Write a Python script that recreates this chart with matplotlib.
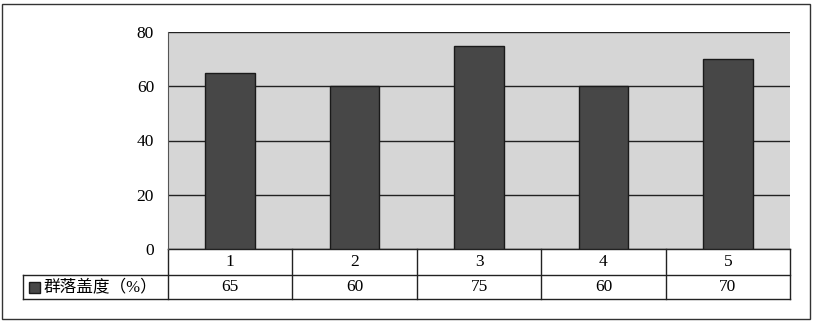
import matplotlib.pyplot as plt
from matplotlib.patches import Rectangle

# data
categories = ["1", "2", "3", "4", "5"]
coverage = [65, 60, 75, 60, 70]
series_name = "群落盖度（%）"
yticks = [0, 20, 40, 60, 80]

plt.rcParams["font.family"] = ["Liberation Serif", "Noto Sans CJK SC"]

fig = plt.figure(figsize=(8.14, 3.23), dpi=100)
ax = fig.add_axes([168 / 814, 1 - 249 / 323, 622 / 814, 217 / 323])
ax.set_facecolor("#d6d6d6")

x = range(len(categories))
ax.bar(x, coverage, width=0.4, color="#474747", edgecolor="#1a1a1a", linewidth=1, zorder=3)

ax.set_xlim(-0.5, len(categories) - 0.5)
ax.set_ylim(0, 80)
ax.set_yticks(yticks)
ax.set_yticklabels([str(t) for t in yticks], fontsize=12.5)
ax.set_xticks([])
ax.tick_params(axis="y", length=0, pad=10)
ax.yaxis.grid(True, color="#222222", linewidth=1, zorder=1)
for s in ["top", "right", "bottom"]:
    ax.spines[s].set_visible(False)
ax.spines["left"].set_color("#555555")

# data table under the axes (axes fraction coords)
n = len(categories)
label_l = -145 / 622
r1 = -26 / 217
r2 = -50 / 217
tr = ax.transAxes
line_kw = dict(transform=tr, clip_on=False, color="#222222", linewidth=1)
ax.plot([0, 1], [0, 0], **line_kw)
ax.plot([label_l, 1], [r1, r1], **line_kw)
ax.plot([label_l, 1], [r2, r2], **line_kw)
ax.plot([label_l, label_l], [r1, r2], **line_kw)
for k in range(n + 1):
    ax.plot([k / n, k / n], [0, r2], **line_kw)
for i, (c, v) in enumerate(zip(categories, coverage)):
    xc = (i + 0.5) / n
    ax.text(xc, r1 / 2, c, transform=tr, ha="center", va="center", fontsize=12.5)
    ax.text(xc, (r1 + r2) / 2, str(v), transform=tr, ha="center", va="center", fontsize=12.5)
ax.text(label_l + 21 / 622, (r1 + r2) / 2, series_name, transform=tr,
        ha="left", va="center", fontsize=12)

# legend key inside the label cell
ax.add_patch(Rectangle((label_l + 6 / 622, (r1 + r2) / 2 - 5.5 / 217), 11 / 622, 11 / 217,
                       transform=tr, clip_on=False,
                       facecolor="#474747", edgecolor="#1a1a1a", linewidth=1))

# outer chart border
fig.patches.append(Rectangle((2 / 814, 4 / 323), 808 / 814, 315 / 323, transform=fig.transFigure,
                             fill=False, edgecolor="#333333", linewidth=1))

fig.savefig("out.png", dpi=100)
